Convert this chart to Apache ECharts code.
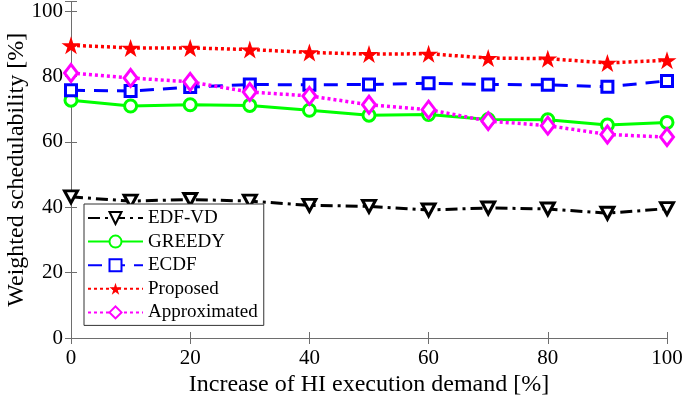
<!DOCTYPE html>
<html>
<head>
<meta charset="utf-8">
<script src="https://cdn.jsdelivr.net/npm/echarts@6/dist/echarts.min.js"></script>
<style>html,body{margin:0;padding:0;background:#fff}#c{width:685px;height:403px}</style>
</head>
<body>
<div id="c"></div>
<script>
const xValues = [0, 10, 20, 30, 40, 50, 60, 70, 80, 90, 100];
const edfvd = [43.2, 41.9, 42.4, 41.9, 40.6, 40.3, 39.2, 39.8, 39.5, 38.2, 39.6];
const greedy = [72.8, 71.0, 71.4, 71.2, 69.7, 68.2, 68.4, 66.9, 66.8, 65.2, 66.0];
const ecdf = [75.8, 75.6, 76.8, 77.6, 77.5, 77.6, 78.0, 77.6, 77.5, 76.9, 78.7];
const proposed = [89.6, 88.8, 88.8, 88.3, 87.4, 86.9, 87.0, 85.7, 85.5, 84.2, 85.0];
const approximated = [81.1, 79.6, 78.4, 75.3, 74.1, 71.4, 69.9, 66.4, 65.0, 62.3, 61.5];
const seriesNames = ['EDF-VD', 'GREEDY', 'ECDF', 'Proposed', 'Approximated'];
const xTitle = 'Increase of HI execution demand [%]';
const yTitle = 'Weighted schedulability [%]';

const FONT = 'Liberation Serif';
const AX = '#6e6e6e';
const pair = arr => arr.map((v, i) => [xValues[i], v]);
const starPath = 'path://M50,0 L61.2,34.5 L97.6,34.5 L68.2,55.9 L79.4,90.5 L50,69.1 L20.6,90.5 L31.8,55.9 L2.4,34.5 L38.8,34.5 Z';

const chart = echarts.init(document.getElementById('c'), null, {renderer: 'canvas'});
const baseAxisX = {
  type: 'value', min: 0, max: 100, interval: 20,
  axisLine: {show: true, lineStyle: {color: AX, width: 1}},
  axisTick: {show: true, inside: true, length: 6, lineStyle: {color: AX}},
  splitLine: {show: false}
};
chart.setOption({
  animation: false,
  backgroundColor: '#fff',
  grid: {left: 71, right: 18, top: 1.5, bottom: 65, containLabel: false, outerBoundsMode: 'none'},
  xAxis: [
    Object.assign({}, baseAxisX, {
      position: 'bottom',
      name: xTitle, nameLocation: 'middle', nameGap: 35, nameMoveOverlap: false,
      nameTextStyle: {fontFamily: FONT, fontSize: 24, color: '#000'},
      axisLabel: {fontFamily: FONT, fontSize: 21, color: '#000', margin: 10}
    }),
    Object.assign({}, baseAxisX, {position: 'top', axisLabel: {show: false}})
  ],
  yAxis: [
    {
      type: 'value', min: 0, max: 103, interval: 20, position: 'left',
      name: yTitle, nameLocation: 'middle', nameGap: 42, nameMoveOverlap: false,
      nameTextStyle: {fontFamily: FONT, fontSize: 24, color: '#000'},
      axisLine: {show: true, lineStyle: {color: AX, width: 1}},
      axisTick: {show: true, inside: true, length: 6, lineStyle: {color: AX}},
      axisLabel: {fontFamily: FONT, fontSize: 21, color: '#000', margin: 8,
        formatter: v => (v % 20 === 0 && v <= 100) ? String(v) : ''},
      splitLine: {show: false}
    },
    {
      type: 'value', min: 0, max: 103, interval: 20, position: 'right',
      axisLine: {show: true, lineStyle: {color: AX, width: 1}},
      axisTick: {show: true, inside: true, length: 6, lineStyle: {color: AX}},
      axisLabel: {show: false},
      splitLine: {show: false}
    }
  ],
  legend: {
    orient: 'vertical', left: 84, top: 204,
    padding: [4, 6, 3, 3], itemGap: 3.6,
    itemWidth: 55, itemHeight: 15,
    backgroundColor: '#fff', borderColor: '#333', borderWidth: 1, borderRadius: 0,
    textStyle: {fontFamily: FONT, fontSize: 19, color: '#000', lineHeight: 20},
    data: seriesNames
  },
  series: [
    {
      name: seriesNames[0], type: 'line', data: pair(edfvd), clip: false, z: 3,
      symbol: 'triangle', symbolRotate: 180, symbolSize: [13, 12],
      lineStyle: {color: '#000', width: 3, type: [12, 5, 3, 5]},
      itemStyle: {color: '#fff', borderColor: '#000', borderWidth: 3}
    },
    {
      name: seriesNames[1], type: 'line', data: pair(greedy), clip: false, z: 3,
      symbol: 'circle', symbolSize: 12,
      lineStyle: {color: '#00ff00', width: 3, type: 'solid'},
      itemStyle: {color: '#fff', borderColor: '#00ff00', borderWidth: 3}
    },
    {
      name: seriesNames[2], type: 'line', data: pair(ecdf), clip: false, z: 3,
      symbol: 'rect', symbolSize: 11,
      lineStyle: {color: '#0000ff', width: 3, type: [14, 9]},
      itemStyle: {color: '#fff', borderColor: '#0000ff', borderWidth: 3}
    },
    {
      name: seriesNames[3], type: 'line', data: pair(proposed), clip: false, z: 3,
      symbol: starPath, symbolSize: [19, 18],
      lineStyle: {color: '#ff0000', width: 3.5, type: [3, 3]},
      itemStyle: {color: '#ff0000', borderColor: '#ff0000', borderWidth: 0}
    },
    {
      name: seriesNames[4], type: 'line', data: pair(approximated), clip: false, z: 3,
      symbol: 'diamond', symbolSize: [13, 17],
      lineStyle: {color: '#ff00ff', width: 3.5, type: [3, 3]},
      itemStyle: {color: '#fff', borderColor: '#ff00ff', borderWidth: 3}
    }
  ]
});
</script>
</body>
</html>
